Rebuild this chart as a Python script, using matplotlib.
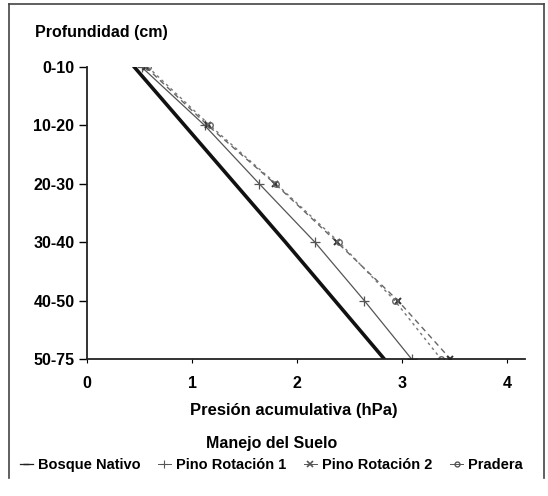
import numpy as np
import matplotlib.pyplot as plt
from matplotlib.lines import Line2D

plt.rcParams['font.family'] = ['Liberation Sans', 'DejaVu Sans']

# depth classes (top to bottom)
depths = ["0-10", "10-20", "20-30", "30-40", "40-50", "50-75"]
xticks = [0, 1, 2, 3, 4]

# accumulated pressure (hPa) per management
bosque_nativo = [0.45, 0.93, 1.41, 1.89, 2.36, 2.83]
pino_rot1 = [0.52, 1.12, 1.64, 2.17, 2.64, 3.09]
pino_rot2 = [0.56, 1.15, 1.79, 2.38, 2.96, 3.46]
pradera = [0.58, 1.17, 1.80, 2.40, 2.93, 3.37]
labels = ['Bosque Nativo', 'Pino Rotación 1', 'Pino Rotación 2', 'Pradera']

fig = plt.figure(figsize=(5.48, 4.96), dpi=100)
ax = fig.add_axes([87/548, 1 - 359/496, (525-87)/548, (359-67)/496])

ypos = np.arange(len(depths))
ax.plot(bosque_nativo, ypos, '-', color='#111111', lw=2.6)
ax.plot(pino_rot1, ypos, '-', color='#555555', lw=0.9, marker='+', ms=7,
        mew=0.9)
ax.plot(pino_rot2, ypos, '--', color='#666666', lw=1.0, marker='x', ms=5,
        mew=1.4, mec='#333333', dashes=(4, 3))
ax.plot(pradera, ypos, '--', color='#777777', lw=1.0, marker='o', ms=4,
        mfc='none', mec='#666666', dashes=(2, 2.5))

ax.set_ylim(len(depths) - 1, 0)
ax.set_yticks(ypos)
ax.set_yticklabels(depths, fontsize=11.5, fontweight='bold')
ax.set_xlim(0, 4.17)
ax.set_xticks(xticks)
ax.set_xticklabels([str(t) for t in xticks], fontsize=11.5, fontweight='bold')
ax.tick_params(axis='y', length=6, width=1.0, pad=3)
ax.tick_params(axis='x', length=3, width=0.8, pad=9)
for s in ['top', 'right']:
    ax.spines[s].set_visible(False)
for s in ['left', 'bottom']:
    ax.spines[s].set_linewidth(1.3)
    ax.spines[s].set_color('#222222')

fig.text(35/548, 1 - 32/496, "Profundidad (cm)", fontsize=11.5,
         fontweight='bold', va='center', ha='left')
fig.text(294/548, 1 - 410/496, "Presión acumulativa (hPa)", fontsize=12,
         fontweight='bold', va='center', ha='center')

# small legend keys like the original
handles = [
    Line2D([], [], color='#222222', lw=0.9, marker='_', ms=4),
    Line2D([], [], color='#555555', lw=0.7, marker='+', ms=6, mew=0.8),
    Line2D([], [], color='#555555', lw=0.7, marker='x', ms=4, mew=1.2),
    Line2D([], [], color='#555555', lw=0.7, marker='o', ms=3.5,
           mfc='none'),
]
leg = fig.legend(handles, labels, loc='upper center',
                 bbox_to_anchor=(0.495, 1 - 423/496),
                 ncol=4, frameon=False, title='Manejo del Suelo',
                 prop={'size': 10.5, 'weight': 'bold'}, handlelength=0.9,
                 handletextpad=0.35, columnspacing=1.2)
leg.get_title().set_fontsize(11.5)
leg.get_title().set_fontweight('bold')

# frame around the figure
for xs, ys in [([9, 9], [4, 478]), ([9, 544], [4, 4]), ([544, 544], [4, 478])]:
    fig.add_artist(Line2D([x/548 for x in xs], [1 - y/496 for y in ys],
                          color='#444444', lw=1.2))

fig.savefig("out.png", dpi=100)
